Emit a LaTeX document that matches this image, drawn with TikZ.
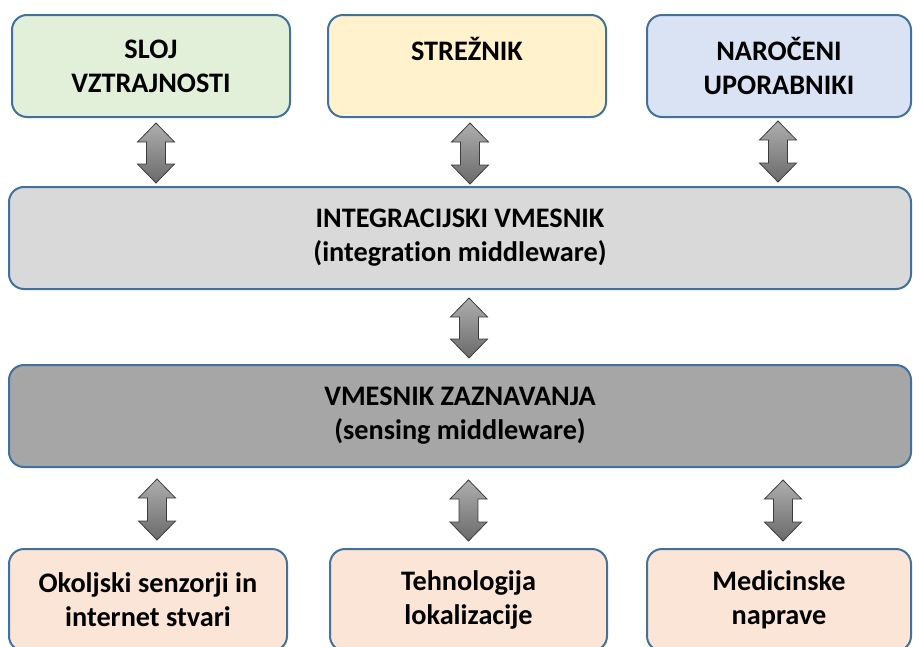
\documentclass[tikz,border=0pt]{standalone}
\usepackage{fontspec}
\setmainfont{Carlito}[Ligatures=NoCommon]
\usetikzlibrary{calc}

\definecolor{edgeblue}{HTML}{41719C}
\definecolor{fillgreen}{HTML}{E2F0D9}
\definecolor{fillyellow}{HTML}{FFF2CC}
\definecolor{fillblue}{HTML}{DAE3F3}
\definecolor{filllight}{HTML}{D9D9D9}
\definecolor{filldark}{HTML}{A6A6A6}
\definecolor{fillpeach}{HTML}{FBE5D6}
\definecolor{arrtop}{HTML}{AEAEAE}
\definecolor{arrbot}{HTML}{6A6A6A}
\definecolor{arredge}{HTML}{3C3C3C}

% fat two-headed arrow between two points (top first), drawn along x of the top point
\newcommand{\dblarrow}[2]{%
  \shade[top color=arrtop, bottom color=arrbot, draw=arredge, line width=0.6pt, line join=miter]
    let \p1=#1, \p2=#2 in
    (\x1,\y1) -- (\x1+13.9pt,\y1-14.25pt) -- (\x1+7.1pt,\y1-14.25pt)
    -- (\x1+7.1pt,\y2+14.25pt) -- (\x1+13.9pt,\y2+14.25pt) -- (\x1,\y2)
    -- (\x1-13.9pt,\y2+14.25pt) -- (\x1-7.1pt,\y2+14.25pt)
    -- (\x1-7.1pt,\y1-14.25pt) -- (\x1-13.9pt,\y1-14.25pt) -- cycle;
}

\begin{document}
\begin{tikzpicture}[x=0.75pt, y=-0.75pt,
  layerbox/.style={draw=edgeblue, line width=1.5pt, rounded corners=11.25pt,
    minimum height=76.5pt, align=center, inner sep=0pt,
    font=\fontsize{21.2}{25.5}\selectfont\bfseries, text=black},
  narrow/.style={layerbox, minimum width=208.5pt},
  wide/.style={layerbox, minimum width=676.5pt}]

\useasboundingbox (0,0) rectangle (913,646);
\clip (0,0) rectangle (913,646);

% top row
\node[narrow, fill=fillgreen] (persist) at (151,66) {SLOJ\\VZTRAJNOSTI};
\node[narrow, fill=fillyellow] (server) at (467,66) {STREŽNIK\\\mbox{}};
\node[layerbox, minimum width=198pt, fill=fillblue] (users) at (779,66) {NAROČENI\\UPORABNIKI};

% middleware layers
\node[wide, fill=filllight] (integ) at (460,238) {INTEGRACIJSKI VMESNIK\\(integration middleware)};
\node[wide, fill=filldark] (sensing) at (460,416) {VMESNIK ZAZNAVANJA\\(sensing middleware)};

% bottom row
\node[narrow, fill=fillpeach] (sensors) at (148,600) {Okoljski senzorji in\\internet stvari};
\node[layerbox, minimum width=207.75pt, fill=fillpeach] (locate) at (468.5,600) {Tehnologija\\lokalizacije};
\node[layerbox, minimum width=198pt, fill=fillpeach] (medical) at (779,600) {Medicinske\\naprave};

% links between the layers
\dblarrow{($(persist.south)+(5,5)$)}{($(integ.north)+(0,-3)$)}
\dblarrow{($(server.south)+(3,5)$)}{($(integ.north)+(0,-2)$)}
\dblarrow{($(users.south)+(-1,3)$)}{($(integ.north)+(0,-4)$)}
\dblarrow{($(integ.south)+(9,8)$)}{($(sensing.north)+(0,-6)$)}
\dblarrow{($(sensors.north |- sensing.south)+(9,11)$)}{($(sensors.north)+(0,-8)$)}
\dblarrow{($(locate.north |- sensing.south)+(0,12)$)}{($(locate.north)+(0,-7)$)}
\dblarrow{($(medical.north |- sensing.south)+(4,12)$)}{($(medical.north)+(0,-7)$)}
\end{tikzpicture}
\end{document}
